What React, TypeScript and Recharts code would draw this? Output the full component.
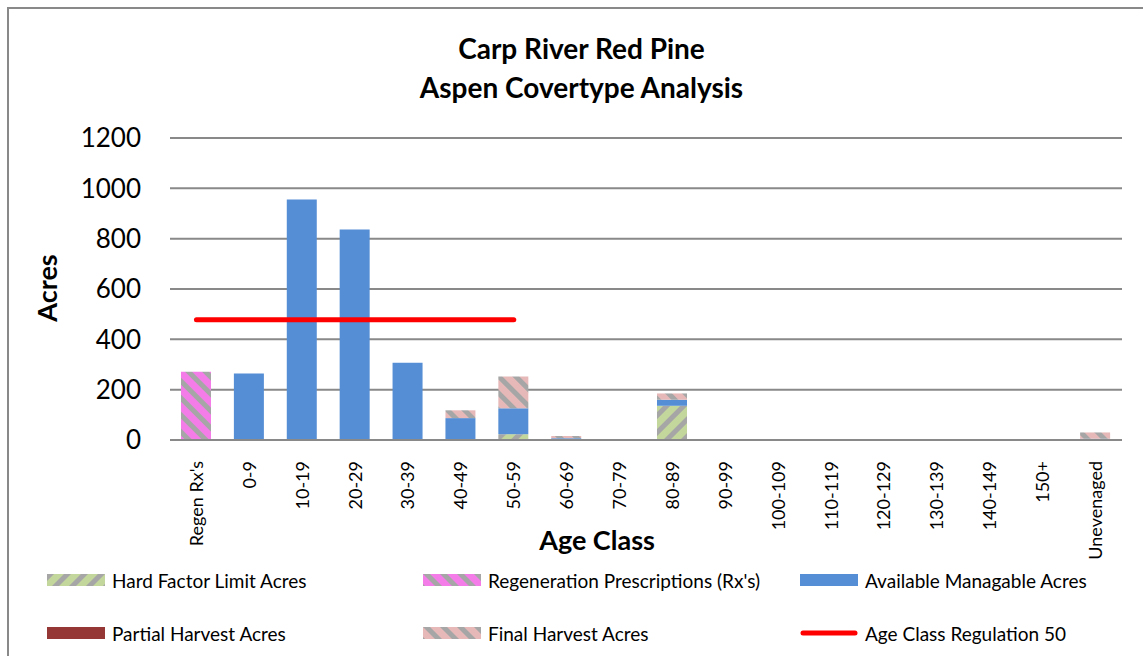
import React from 'react'
import { ComposedChart, Bar, Line, XAxis, YAxis, CartesianGrid } from 'recharts'

const FONT = 'Lato, "Liberation Sans", sans-serif'

const categories = [
  "Regen Rx's", '0-9', '10-19', '20-29', '30-39', '40-49', '50-59', '60-69', '70-79', '80-89',
  '90-99', '100-109', '110-119', '120-129', '130-139', '140-149', '150+', 'Unevenaged'
]
const hardFactor = [0, 0, 0, 0, 0, 0, 23, 0, 0, 136, 0, 0, 0, 0, 0, 0, 0, 0]
const regenRx = [271, 0, 0, 0, 0, 0, 0, 0, 0, 0, 0, 0, 0, 0, 0, 0, 0, 0]
const available = [0, 264, 956, 836, 307, 87, 103, 7, 0, 24, 0, 0, 0, 0, 0, 0, 0, 5]
const partial = [0, 0, 0, 0, 0, 0, 0, 0, 0, 0, 0, 0, 0, 0, 0, 0, 0, 0]
const finalHarvest = [0, 0, 0, 0, 0, 31, 126, 9, 0, 25, 0, 0, 0, 0, 0, 0, 0, 25]
const regulation = [478, 478, 478, 478, 478, 478, 478, null, null, null, null, null, null, null, null, null, null, null]
const yTicks = [0, 200, 400, 600, 800, 1000, 1200]

const data = categories.map((name, i) => ({
  name,
  hard: hardFactor[i],
  regen: regenRx[i],
  avail: available[i],
  partial: partial[i],
  final: finalHarvest[i],
  reg: regulation[i]
}))

const legendItems = [
  { label: 'Hard Factor Limit Acres', fill: 'url(#hatchGreen)', kind: 'box' },
  { label: "Regeneration Prescriptions (Rx's)", fill: 'url(#hatchPink)', kind: 'box' },
  { label: 'Available Managable Acres', fill: '#558ed5', kind: 'box' },
  { label: 'Partial Harvest Acres', fill: '#953735', kind: 'box' },
  { label: 'Final Harvest Acres', fill: 'url(#hatchRose)', kind: 'box' },
  { label: 'Age Class Regulation 50', fill: '#ff0000', kind: 'line' }
]

const Patterns = () => (
  <svg width={0} height={0} style={{ position: 'absolute' }}>
    <defs>
      <pattern id="hatchGreen" width="12" height="12" patternUnits="userSpaceOnUse" patternTransform="rotate(45)">
        <rect width="12" height="12" fill="#c3d69b" />
        <rect width="5" height="12" fill="#a6a6a6" />
      </pattern>
      <pattern id="hatchPink" width="12" height="12" patternUnits="userSpaceOnUse" patternTransform="rotate(-45)">
        <rect width="12" height="12" fill="#f47ce8" />
        <rect width="5" height="12" fill="#a6a6a6" />
      </pattern>
      <pattern id="hatchRose" width="12" height="12" patternUnits="userSpaceOnUse" patternTransform="rotate(-45)">
        <rect width="12" height="12" fill="#e6b9b8" />
        <rect width="5" height="12" fill="#a6a6a6" />
      </pattern>
    </defs>
  </svg>
)

const AgeTick = (props: any) => {
  const { x, y, payload } = props
  return (
    <text
      x={x}
      y={y}
      transform={`rotate(-90, ${x}, ${y})`}
      textAnchor="end"
      dy="0.36em"
      dx={-13}
      fontSize={18}
      fontFamily={FONT}
      fill="#000"
    >
      {payload.value}
    </text>
  )
}

export default function App() {
  return (
    <div style={{ position: 'fixed', left: 0, top: 0, width: 1143, height: 656, overflow: 'hidden', background: '#fff' }}>
      <Patterns />
      <div style={{ position: 'absolute', left: 7, top: 7, width: 1200, height: 700, border: '2px solid #898989' }} />
      <div style={{ position: 'absolute', left: 0, top: 29, width: 1163, textAlign: 'center', fontFamily: FONT, fontWeight: 700, fontSize: 28, lineHeight: '39px', color: '#000' }}>
        Carp River Red Pine<br />Aspen Covertype Analysis
      </div>
      <div style={{ position: 'absolute', left: 46, top: 288, transform: 'translate(-50%, -50%) rotate(-90deg)', fontFamily: FONT, fontWeight: 700, fontSize: 27, color: '#000', whiteSpace: 'nowrap' }}>
        Acres
      </div>
      <div style={{ position: 'absolute', left: 597, top: 539, transform: 'translate(-50%, -50%)', fontFamily: FONT, fontWeight: 700, fontSize: 27, color: '#000', whiteSpace: 'nowrap' }}>
        Age Class
      </div>
      <ComposedChart
        width={1143}
        height={656}
        data={data}
        style={{ position: 'absolute', left: 0, top: 0 }}
        margin={{ top: 138, right: 21, bottom: 116, left: 110 }}
      >
        <CartesianGrid vertical={false} stroke="#898989" strokeWidth={2} />
        <XAxis
          dataKey="name"
          interval={0}
          height={100}
          tickLine={false}
          axisLine={{ stroke: '#898989', strokeWidth: 2 }}
          tick={<AgeTick />}
        />
        <YAxis
          width={60}
          domain={[0, 1200]}
          ticks={yTicks}
          axisLine={false}
          tickLine={false}
          tickSize={0}
          tickMargin={29}
          tick={{ fontSize: 26, fontFamily: FONT, fill: '#000' }}
        />
        <Bar dataKey="hard" stackId="a" fill="url(#hatchGreen)" barSize={30} isAnimationActive={false} />
        <Bar dataKey="regen" stackId="a" fill="url(#hatchPink)" barSize={30} isAnimationActive={false} />
        <Bar dataKey="avail" stackId="a" fill="#558ed5" barSize={30} isAnimationActive={false} />
        <Bar dataKey="partial" stackId="a" fill="#953735" barSize={30} isAnimationActive={false} />
        <Bar dataKey="final" stackId="a" fill="url(#hatchRose)" barSize={30} isAnimationActive={false} />
        <Line dataKey="reg" stroke="#ff0000" strokeWidth={5} strokeLinecap="round" dot={false} activeDot={false} connectNulls={false} isAnimationActive={false} />
      </ComposedChart>
      {legendItems.map((item, i) => {
        const col = i % 3
        const row = Math.floor(i / 3)
        const left = [47, 423, 800][col]
        const top = [569, 622][row]
        return (
          <div key={item.label} style={{ position: 'absolute', left, top, height: 22, display: 'flex', alignItems: 'center', fontFamily: FONT, fontSize: 19, color: '#000', whiteSpace: 'nowrap' }}>
            <svg width={58} height={12} style={{ marginRight: 7 }}>
              {item.kind === 'box' ? (
                <rect x={0} y={0} width={58} height={12} fill={item.fill} />
              ) : (
                <line x1={3} y1={6} x2={55} y2={6} stroke={item.fill} strokeWidth={5} strokeLinecap="round" />
              )}
            </svg>
            {item.label}
          </div>
        )
      })}
    </div>
  )
}
